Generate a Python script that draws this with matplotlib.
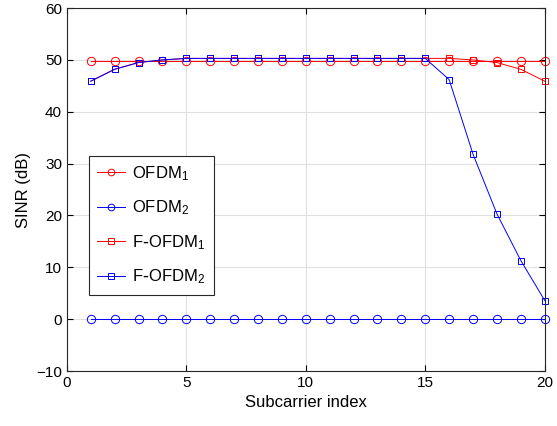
import numpy as np
import matplotlib
matplotlib.use("Agg")
import matplotlib.pyplot as plt

plt.rcParams['font.family'] = ['Liberation Sans', 'DejaVu Sans']

idx = np.arange(1, 21)
ofdm1 = [49.8] * 20
ofdm2 = [0.0] * 20
fofdm1 = [45.9, 48.2, 49.5, 50.0, 50.3, 50.3, 50.3, 50.3, 50.3, 50.3,
          50.3, 50.3, 50.3, 50.3, 50.3, 50.3, 50.0, 49.5, 48.2, 45.9]
fofdm2 = [45.9, 48.2, 49.5, 50.0, 50.3, 50.3, 50.3, 50.3, 50.3, 50.3,
          50.3, 50.3, 50.3, 50.3, 50.3, 46.2, 31.8, 20.3, 11.3, 3.6]

fig = plt.figure(figsize=(5.57, 4.26), dpi=100)
ax = fig.add_axes([0.12, 0.129, 0.858, 0.852])

ax.plot(idx, ofdm1, color='r', lw=0.7, marker='o', ms=6, mfc='none', mew=0.7,
        label=r'$\mathregular{OFDM_1}$', clip_on=False)
ax.plot(idx, ofdm2, color='b', lw=0.7, marker='o', ms=6, mfc='none', mew=0.7,
        label=r'$\mathregular{OFDM_2}$', clip_on=False)
ax.plot(idx, fofdm1, color='r', lw=0.7, marker='s', ms=5, mfc='none', mew=0.7,
        label=r'$\mathregular{F\text{-}OFDM_1}$', clip_on=False)
ax.plot(idx, fofdm2, color='b', lw=0.7, marker='s', ms=5, mfc='none', mew=0.7,
        label=r'$\mathregular{F\text{-}OFDM_2}$', clip_on=False)

ax.set_xlim(0, 20)
ax.set_ylim(-10, 60)
ax.set_xticks([0, 5, 10, 15, 20])
ax.set_yticks(np.arange(-10, 61, 10))
ax.grid(True, color='#e0e0e0', lw=0.8)
ax.set_axisbelow(True)
ax.tick_params(direction='in', labelsize=11, top=True, right=True, length=4)
for s in ax.spines.values():
    s.set_linewidth(0.8)
    s.set_color('#262626')
ax.set_xlabel('Subcarrier index', fontsize=12)
ax.set_ylabel('SINR (dB)', fontsize=12)

leg = ax.legend(loc='center left', bbox_to_anchor=(0.046, 0.402), fontsize=12,
                fancybox=False, edgecolor='#262626', framealpha=1,
                handlelength=1.7, handletextpad=0.4, labelspacing=0.95,
                borderpad=0.5, borderaxespad=0, markerscale=0.8)
leg.get_frame().set_linewidth(0.8)

fig.savefig('out.png', dpi=100)
